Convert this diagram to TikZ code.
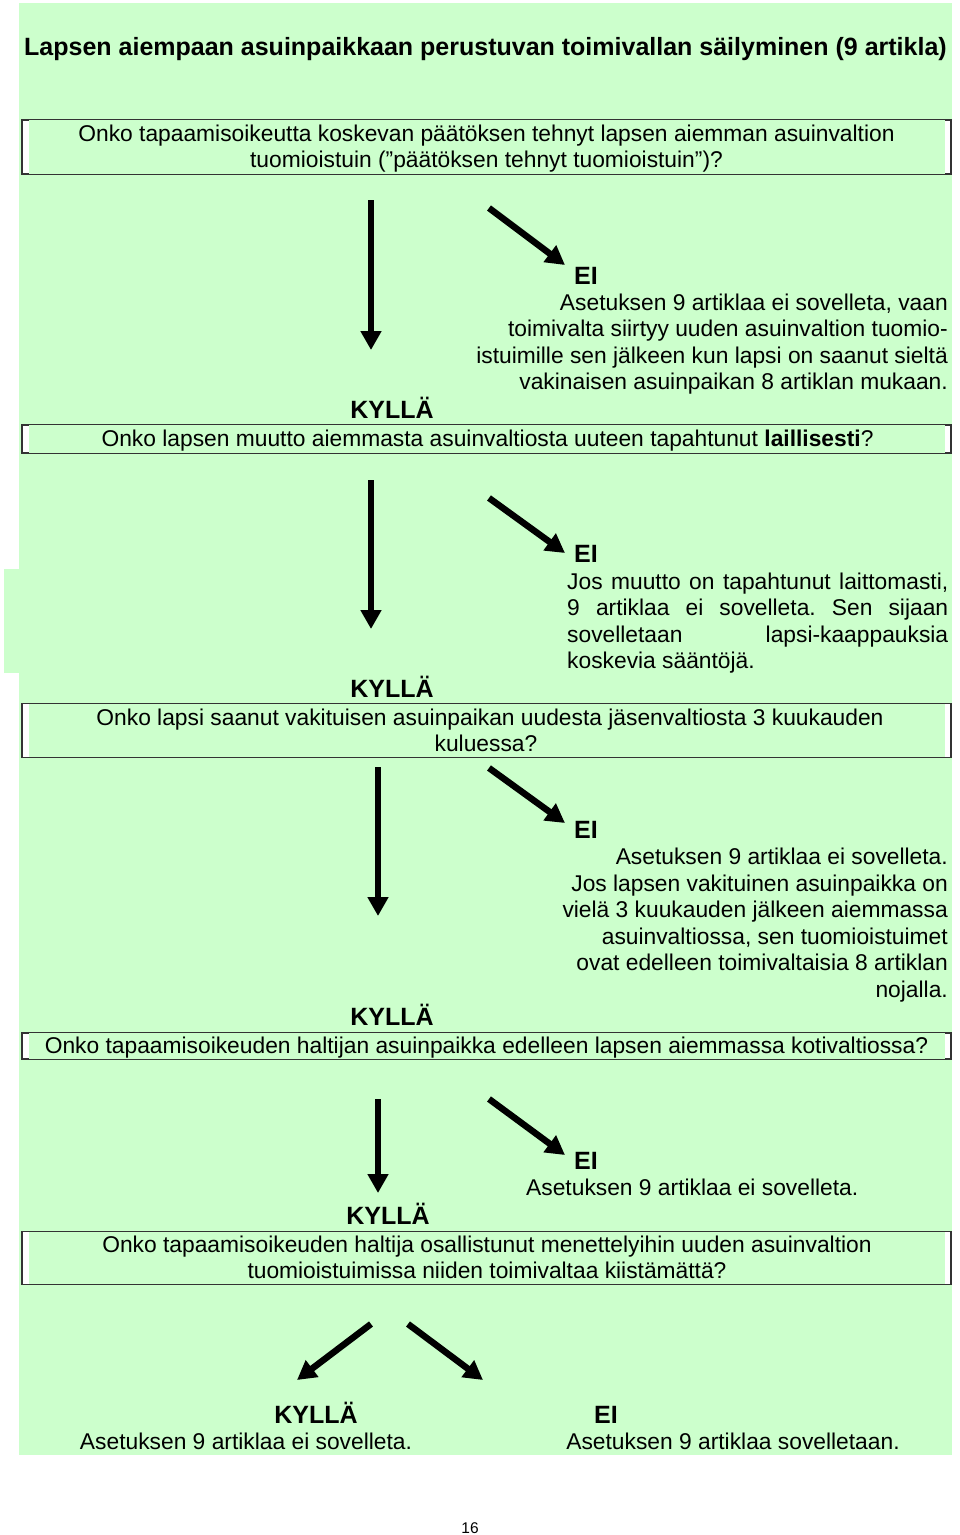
\documentclass[tikz,border=0pt]{standalone}
\usepackage{fontspec}
\setmainfont{Liberation Sans}
\usetikzlibrary{arrows.meta}
\definecolor{bg}{HTML}{CCFFCC}
\definecolor{frame}{HTML}{333333}
\frenchspacing
\tikzset{
  txt/.style={inner sep=0pt, anchor=base, font=\fontsize{22.8}{26.6}\selectfont},
  txtr/.style={txt, anchor=base east},
  txtl/.style={txt, anchor=base west},
  hd/.style={inner sep=0pt, anchor=base, font=\fontsize{25}{29}\selectfont\bfseries},
  big/.style={line width=6.5pt, -{Triangle[width=20pt,length=19pt]}},
  qbox/.style={draw=frame, fill=white, line width=1.3pt, inner sep=0pt, minimum width=929pt}
}
\newcommand{\greeninner}[1]{\fill[bg] ([xshift=8pt,yshift=-0.8pt]#1.north west) rectangle ([xshift=-7pt,yshift=0.8pt]#1.south east);}
\begin{document}
\begin{tikzpicture}[x=1pt,y=-1pt]
\useasboundingbox (0,0) rectangle (960,1535);
\fill[white] (0,0) rectangle (960,1535);
% background
\fill[bg] (19,3) rectangle (952,1455);
\fill[bg] (4,569) rectangle (19,673);

% title
\node[hd] (title) at (485.5,55) {Lapsen aiempaan asuinpaikkaan perustuvan toimivallan säilyminen (9 artikla)};

% question 1
\node[qbox, minimum height=54pt] (q1) at (486.5,147) {};
\greeninner{q1}
\node[txt] (q1a) at (486.5,141) {Onko tapaamisoikeutta koskevan päätöksen tehnyt lapsen aiemman asuinvaltion};
\node[txt] (q1b) at (486.5,167) {tuomioistuin (”päätöksen tehnyt tuomioistuin”)?};

\coordinate (v1s) at (371,200); \coordinate (v1e) at (371,350);
\draw[big] (v1s) -- (v1e);
\coordinate (d1s) at (489,208); \coordinate (d1e) at (565,265);
\draw[big] (d1s) -- (d1e);
\node[hd, anchor=base west] (ei1) at (574,284) {EI};
\node[txtr] (e1a) at (948,310) {Asetuksen 9 artiklaa ei sovelleta, vaan};
\node[txtr] (e1b) at (948,336) {toimivalta siirtyy uuden asuinvaltion tuomio-};
\node[txtr] (e1c) at (948,363) {istuimille sen jälkeen kun lapsi on saanut sieltä};
\node[txtr] (e1d) at (948,389) {vakinaisen asuinpaikan 8 artiklan mukaan.};
\node[hd] (k1) at (392,418) {KYLLÄ};

% question 2
\node[qbox, minimum height=28pt] (q2) at (486.5,439) {};
\greeninner{q2}
\node[txt] (q2a) at (487.5,446) {Onko lapsen muutto aiemmasta asuinvaltiosta uuteen tapahtunut \textbf{laillisesti}?};

\coordinate (v2s) at (371,480); \coordinate (v2e) at (371,629);
\draw[big] (v2s) -- (v2e);
\coordinate (d2s) at (489,498); \coordinate (d2e) at (565,553);
\draw[big] (d2s) -- (d2e);
\node[hd, anchor=base west] (ei2) at (574,562) {EI};
\node[txtl] (e2a) at (567,589) {\makebox[381pt][s]{Jos muutto on tapahtunut laittomasti,}};
\node[txtl] (e2b) at (567,615) {\makebox[381pt][s]{9 artiklaa ei sovelleta. Sen sijaan}};
\node[txtl] (e2c) at (567,642) {\makebox[381pt][s]{sovelletaan lapsi-kaappauksia}};
\node[txtl] (e2d) at (567,668) {koskevia sääntöjä.};
\node[hd] (k2) at (392,697) {KYLLÄ};

% question 3
\node[qbox, minimum height=54pt] (q3) at (486.5,730.5) {};
\greeninner{q3}
\node[txt] (q3a) at (490,725) {Onko lapsi saanut vakituisen asuinpaikan uudesta jäsenvaltiosta 3 kuukauden};
\node[txt] (q3b) at (486,751) {kuluessa?};

\coordinate (v3s) at (378,767); \coordinate (v3e) at (378,916);
\draw[big] (v3s) -- (v3e);
\coordinate (d3s) at (489,768); \coordinate (d3e) at (565,823);
\draw[big] (d3s) -- (d3e);
\node[hd, anchor=base west] (ei3) at (574,838) {EI};
\node[txtr] (e3a) at (948,864) {Asetuksen 9 artiklaa ei sovelleta.};
\node[txtr] (e3b) at (948,891) {Jos lapsen vakituinen asuinpaikka on};
\node[txtr] (e3c) at (948,917) {vielä 3 kuukauden jälkeen aiemmassa};
\node[txtr] (e3d) at (948,944) {asuinvaltiossa, sen tuomioistuimet};
\node[txtr] (e3e) at (948,970) {ovat edelleen toimivaltaisia 8 artiklan};
\node[txtr] (e3f) at (948,997) {nojalla.};
\node[hd] (k3) at (392,1025) {KYLLÄ};

% question 4
\node[qbox, minimum height=26pt] (q4) at (486.5,1046) {};
\greeninner{q4}
\node[txt] (q4a) at (486.5,1053) {Onko tapaamisoikeuden haltijan asuinpaikka edelleen lapsen aiemmassa kotivaltiossa?};

\coordinate (v4s) at (378,1099); \coordinate (v4e) at (378,1193);
\draw[big] (v4s) -- (v4e);
\coordinate (d4s) at (489,1099); \coordinate (d4e) at (565,1155);
\draw[big] (d4s) -- (d4e);
\node[hd, anchor=base west] (ei4) at (574,1169) {EI};
\node[txtl] (e4a) at (526,1195) {Asetuksen 9 artiklaa ei sovelleta.};
\node[hd] (k4) at (388,1224) {KYLLÄ};

% question 5
\node[qbox, minimum height=53pt] (q5) at (486.5,1258) {};
\greeninner{q5}
\node[txt] (q5a) at (487,1252) {Onko tapaamisoikeuden haltija osallistunut menettelyihin uuden asuinvaltion};
\node[txt] (q5b) at (487,1278) {tuomioistuimissa niiden toimivaltaa kiistämättä?};

\coordinate (b1s) at (371,1324); \coordinate (b1e) at (297,1380);
\draw[big] (b1s) -- (b1e);
\coordinate (b2s) at (408,1324); \coordinate (b2e) at (483,1380);
\draw[big] (b2s) -- (b2e);
\node[hd] (k5) at (316,1423) {KYLLÄ};
\node[txt] (r1) at (246,1449) {Asetuksen 9 artiklaa ei sovelleta.};
\node[hd] (ei5) at (606,1423) {EI};
\node[txt] (r2) at (733,1449) {Asetuksen 9 artiklaa sovelletaan.};

\node[inner sep=0pt, anchor=base, font=\fontsize{15.5}{18}\selectfont] (page) at (470,1533) {16};
\end{tikzpicture}
\end{document}
